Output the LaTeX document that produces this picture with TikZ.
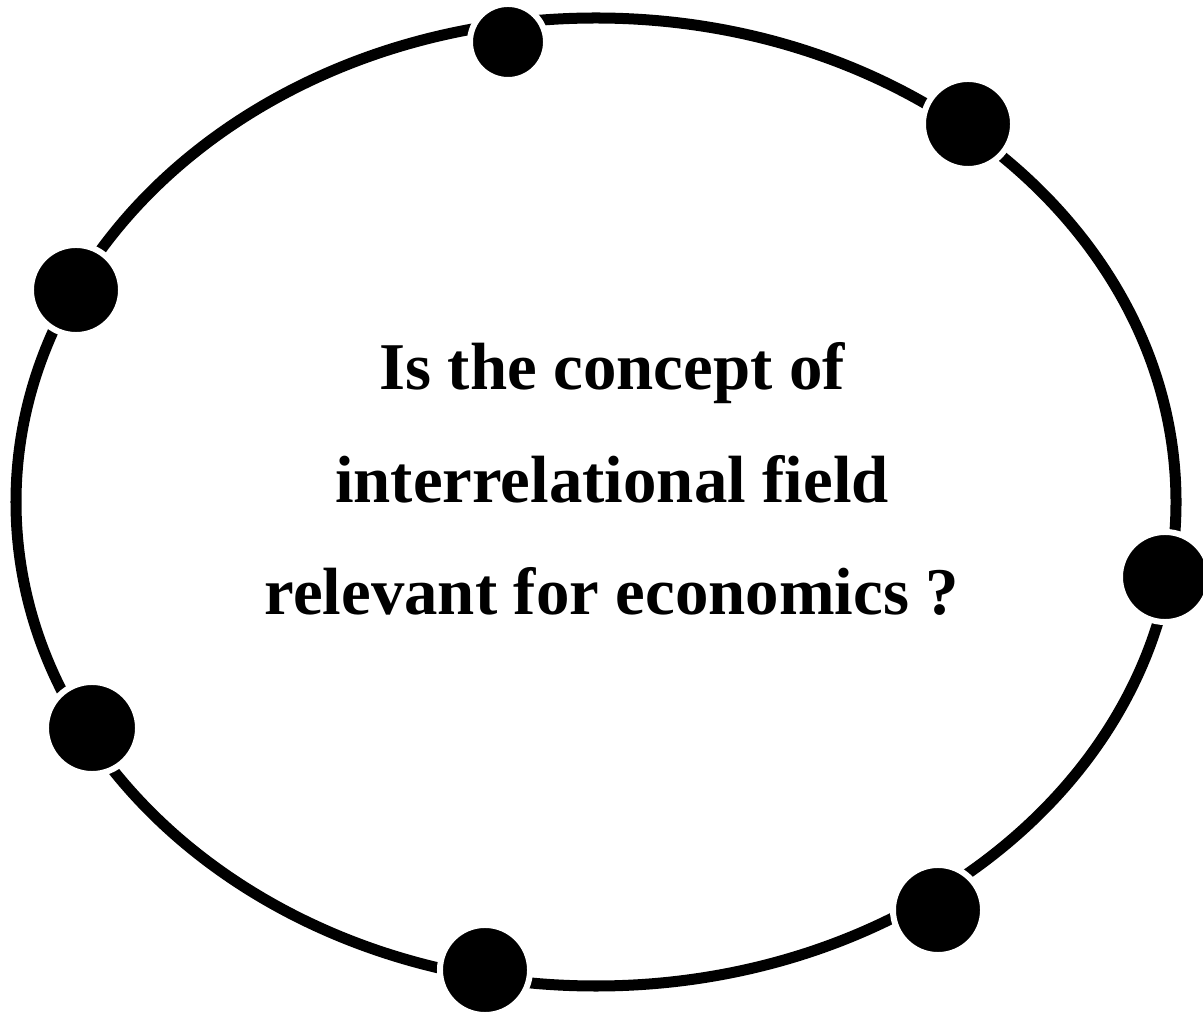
\documentclass[tikz,border=0pt]{standalone}
\usepackage{fontspec}
\setmainfont{Liberation Serif}
\usepackage{tikz}
\tikzset{
  field/.style={line width=0.11cm, black},
  member/.style={circle, fill=black, draw=white, line width=0.06cm, inner sep=0pt},
  question/.style={anchor=base, font=\bfseries\fontsize{19}{23}\selectfont}
}

\begin{document}
\begin{tikzpicture}[x=0.01cm, y=-0.01cm]
  \useasboundingbox (0,0) rectangle (1203,1013);
  % the interrelational field
  \draw[field] (596,502) ellipse [x radius=580, y radius=484];
  % members sitting on the field (name/x/y/diameter in cm)
  \foreach \n/\x/\y/\d in {1/508/42/0.76, 2/968/124/0.90, 3/76/290/0.90,
                           4/1165/577/0.90, 5/92/728/0.92, 6/938/910/0.90,
                           7/485/970/0.90}{
    \node[member, minimum size=\d cm] (d\n) at (\x,\y) {};
  }
  % the question in the middle
  \node[question] (q1) at (612,390) {Is the concept of};
  \node[question] (q2) at (612,503) {interrelational field};
  \node[question] (q3) at (612,615) {relevant for economics ?};
\end{tikzpicture}
\end{document}
